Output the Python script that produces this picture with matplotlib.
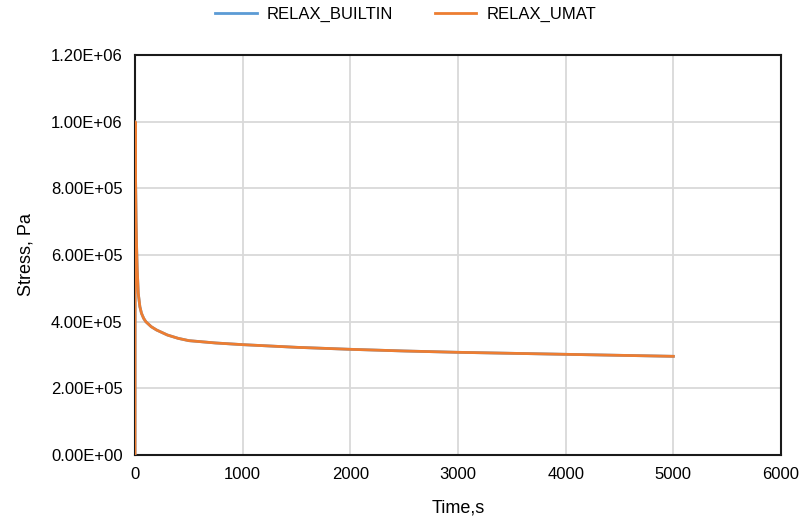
import matplotlib
matplotlib.use("Agg")
import matplotlib.pyplot as plt
from matplotlib.ticker import FuncFormatter, MultipleLocator

plt.rcParams['font.family'] = ['Liberation Sans', 'DejaVu Sans']

# Relaxation response: time (s) and stress (Pa)
time_s = [0, 1, 5, 10, 15, 20, 30, 45, 60, 80, 100, 150, 200, 300, 400, 500,
          750, 1000, 1500, 2000, 2500, 3000, 3500, 4000, 4500, 5000]
stress_builtin = [0, 1.0e6, 8.3e5, 7.0e5, 6.2e5, 5.6e5, 4.85e5, 4.45e5, 4.25e5,
                  4.1e5, 4.0e5, 3.85e5, 3.75e5, 3.6e5, 3.5e5, 3.43e5, 3.36e5,
                  3.31e5, 3.23e5, 3.17e5, 3.12e5, 3.08e5, 3.05e5, 3.02e5,
                  2.99e5, 2.96e5]
stress_umat = list(stress_builtin)
series_names = ["RELAX_BUILTIN", "RELAX_UMAT"]

fig = plt.figure(figsize=(8.11, 5.22), dpi=100)
ax = fig.add_axes([0.1665, 0.1284, 0.7965, 0.7662])

ax.plot(time_s, stress_builtin, color="#5B9BD5", lw=2.0, label=series_names[0],
        solid_joinstyle="round", zorder=3)
ax.plot(time_s, stress_umat, color="#ED7D31", lw=2.0, label=series_names[1],
        solid_joinstyle="round", zorder=4)

ax.set_xlim(0, 6000)
ax.set_ylim(0, 1.2e6)
ax.xaxis.set_major_locator(MultipleLocator(1000))
ax.yaxis.set_major_locator(MultipleLocator(2e5))
ax.yaxis.set_major_formatter(FuncFormatter(lambda v, p: f"{v:.2E}"))
ax.grid(True, color="#d9d9d9", lw=1.3)
ax.set_axisbelow(True)
ax.tick_params(length=0, labelsize=12, colors="#000000", pad=9)
for s in ax.spines.values():
    s.set_color("#1a1a1a")
    s.set_linewidth(1.5)

ax.set_xlabel("Time,s", fontsize=13, labelpad=12)
ax.set_ylabel("Stress, Pa", fontsize=13, labelpad=12)

fig.legend(loc="upper center", bbox_to_anchor=(0.5, 1.015), ncol=2, frameon=False,
           fontsize=12, handlelength=2.5, columnspacing=2.5, handletextpad=0.6)

fig.savefig("out.png", dpi=100)
